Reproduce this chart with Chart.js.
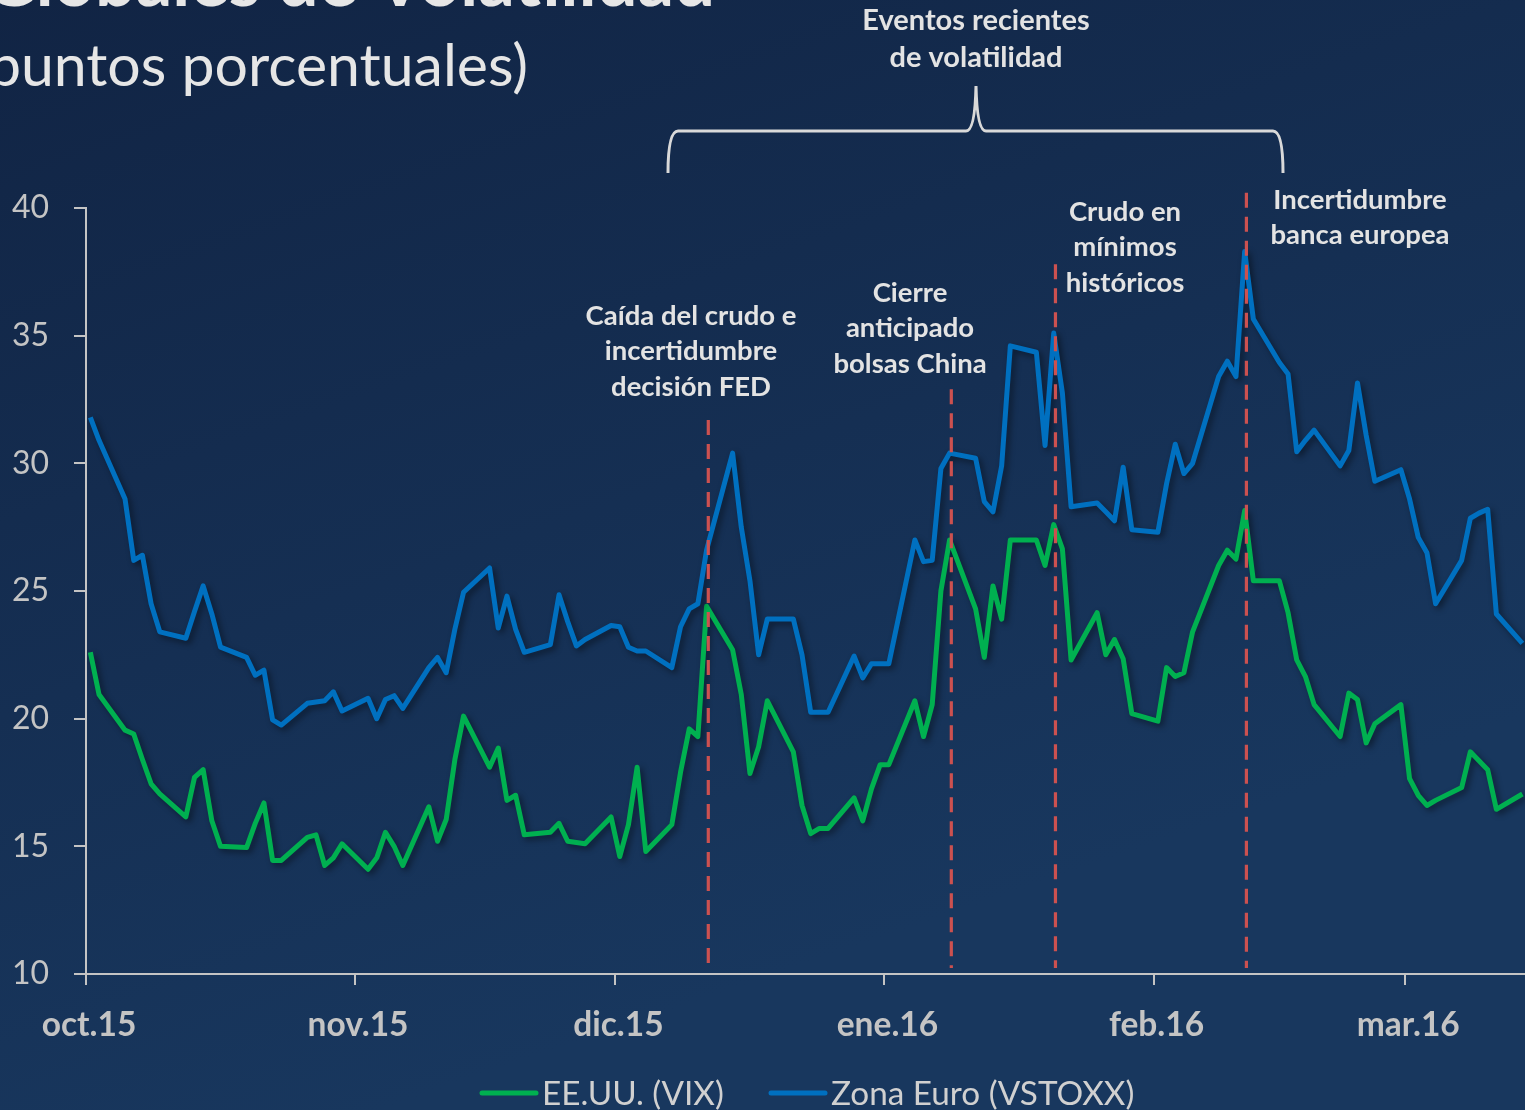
<!DOCTYPE html>
<html>
<head>
<meta charset="utf-8">
<script src="https://cdn.jsdelivr.net/npm/chart.js@4.4.1/dist/chart.umd.min.js"></script>
<style>
  html, body { margin: 0; padding: 0; background: #14294d; }
  #box { position: relative; width: 1525px; height: 1110px; }
</style>
</head>
<body>
<div id="box"><canvas id="chart" width="1525" height="1110"></canvas></div>
<script>
// trading days (oct.15 - mar.16)
const dates = [
  '2015-10-01','2015-10-02','2015-10-05','2015-10-06','2015-10-07','2015-10-08','2015-10-09',
  '2015-10-12','2015-10-13','2015-10-14','2015-10-15','2015-10-16','2015-10-19','2015-10-20',
  '2015-10-21','2015-10-22','2015-10-23','2015-10-26','2015-10-27','2015-10-28','2015-10-29',
  '2015-10-30','2015-11-02','2015-11-03','2015-11-04','2015-11-05','2015-11-06','2015-11-09',
  '2015-11-10','2015-11-11','2015-11-12','2015-11-13','2015-11-16','2015-11-17','2015-11-18',
  '2015-11-19','2015-11-20','2015-11-23','2015-11-24','2015-11-25','2015-11-26','2015-11-27',
  '2015-11-30','2015-12-01','2015-12-02','2015-12-03','2015-12-04','2015-12-07','2015-12-08',
  '2015-12-09','2015-12-10','2015-12-11','2015-12-14','2015-12-15','2015-12-16','2015-12-17',
  '2015-12-18','2015-12-21','2015-12-22','2015-12-23','2015-12-24','2015-12-25','2015-12-28',
  '2015-12-29','2015-12-30','2015-12-31','2016-01-01','2016-01-04','2016-01-05','2016-01-06',
  '2016-01-07','2016-01-08','2016-01-11','2016-01-12','2016-01-13','2016-01-14','2016-01-15',
  '2016-01-18','2016-01-19','2016-01-20','2016-01-21','2016-01-22','2016-01-25','2016-01-26',
  '2016-01-27','2016-01-28','2016-01-29','2016-02-01','2016-02-02','2016-02-03','2016-02-04',
  '2016-02-05','2016-02-08','2016-02-09','2016-02-10','2016-02-11','2016-02-12','2016-02-15',
  '2016-02-16','2016-02-17','2016-02-18','2016-02-19','2016-02-22','2016-02-23','2016-02-24',
  '2016-02-25','2016-02-26','2016-02-29','2016-03-01','2016-03-02','2016-03-03','2016-03-04',
  '2016-03-07','2016-03-08','2016-03-09','2016-03-10','2016-03-11','2016-03-14'
];

const vix = [
  22.6, 20.95, 19.55, 19.4, 18.4, 17.45, 17.05,
  16.15, 17.7, 18.0, 16.0, 15.0, 14.95, 15.9,
  16.7, 14.45, 14.45, 15.35, 15.45, 14.25, 14.55,
  15.1, 14.1, 14.55, 15.55, 15.0, 14.25, 16.55,
  15.2, 16.05, 18.4, 20.1, 18.1, 18.85, 16.8,
  17.0, 15.45, 15.55, 15.9, 15.2, 15.15, 15.1,
  16.15, 14.6, 15.85, 18.1, 14.8, 15.85, 17.9,
  19.6, 19.3, 24.4, 22.7, 20.95, 17.85, 18.9,
  20.7, 18.7, 16.6, 15.5, 15.7, 15.7, 16.9,
  16.0, 17.25, 18.2, 18.2, 20.7, 19.3, 20.55,
  25.0, 27.0, 24.3, 22.4, 25.2, 23.9, 27.0,
  27.0, 26.0, 27.6, 26.65, 22.3, 24.15, 22.5,
  23.1, 22.35, 20.2, 19.9, 22.0, 21.65, 21.8,
  23.4, 26.0, 26.6, 26.25, 28.15, 25.4, 25.4,
  24.15, 22.3, 21.65, 20.55, 19.3, 21.0, 20.75,
  19.05, 19.8, 20.55, 17.65, 17.0, 16.6, 16.8,
  17.3, 18.7, 18.35, 18.0, 16.45, 17.05
];

const vstoxx = [
  31.8, 30.9, 28.6, 26.2, 26.4, 24.5, 23.4,
  23.15, 24.2, 25.2, 24.1, 22.8, 22.4, 21.7,
  21.9, 19.95, 19.75, 20.6, 20.65, 20.7, 21.05,
  20.3, 20.8, 20.0, 20.75, 20.9, 20.4, 22.0,
  22.4, 21.8, 23.5, 24.95, 25.9, 23.55, 24.8,
  23.5, 22.6, 22.9, 24.85, 23.8, 22.85, 23.1,
  23.65, 23.6, 22.8, 22.65, 22.65, 22.0, 23.6,
  24.3, 24.5, 26.6, 30.4, 27.5, 25.4, 22.5,
  23.9, 23.9, 22.5, 20.25, 20.25, 20.25, 22.45,
  21.6, 22.15, 22.15, 22.15, 27.0, 26.15, 26.2,
  29.8, 30.4, 30.2, 28.5, 28.1, 29.9, 34.6,
  34.35, 30.7, 35.1, 32.75, 28.3, 28.45, 28.1,
  27.75, 29.85, 27.4, 27.3, 29.2, 30.75, 29.6,
  30.0, 33.4, 34.0, 33.4, 38.3, 35.65, 33.95,
  33.5, 30.45, 30.9, 31.3, 29.9, 30.5, 33.15,
  31.1, 29.3, 29.75, 28.6, 27.1, 26.5, 24.5,
  26.2, 27.85, 28.05, 28.2, 24.1, 22.95
];

const monthTicks = ['2015-10-01','2015-11-01','2015-12-01','2016-01-01','2016-02-01','2016-03-01'];
const monthLabels = ['oct.15','nov.15','dic.15','ene.16','feb.16','mar.16'];

const eventDates = ['2015-12-11','2016-01-08','2016-01-20','2016-02-11'];
const eventTop = [31.7, 32.9, 37.8, 40.6];
const eventLabels = [
  ['Caída del crudo e', 'incertidumbre', 'decisión FED'],
  ['Cierre', 'anticipado', 'bolsas China'],
  ['Crudo en', 'mínimos', 'históricos'],
  ['Incertidumbre', 'banca europea']
];

const seriesNames = ['EE.UU. (VIX)', 'Zona Euro (VSTOXX)'];

const FONT = "Lato, 'Open Sans', sans-serif";
const GREEN = '#00b050';
const BLUE = '#0070c0';
const AXIS = '#c4c4c4';

const origin = Date.UTC(2015, 9, 1);
function dayOf(s) {
  const p = s.split('-').map(Number);
  return (Date.UTC(p[0], p[1] - 1, p[2]) - origin) / 864e5;
}

// label boxes (pixel layout), one per event
const labelPos = [
  {x: 691, y: 316}, {x: 910, y: 293}, {x: 1125, y: 212}, {x: 1360, y: 200}
];

const decor = {
  id: 'decor',
  beforeDraw(chart) {
    const {ctx, width, height} = chart;
    const g = ctx.createLinearGradient(0, 0, width * 0.25, height);
    g.addColorStop(0, '#112444');
    g.addColorStop(1, '#18375e');
    ctx.save();
    ctx.fillStyle = g;
    ctx.fillRect(0, 0, width, height);
    ctx.restore();
  },
  beforeDatasetDraw(chart) {
    const ctx = chart.ctx;
    ctx.save();
    ctx.shadowColor = 'rgba(0,0,0,0.45)';
    ctx.shadowBlur = 6;
    ctx.shadowOffsetX = 3;
    ctx.shadowOffsetY = 3;
  },
  afterDatasetDraw(chart) {
    chart.ctx.restore();
  },
  afterDatasetsDraw(chart) {
    const {ctx, scales: {x, y}, chartArea} = chart;
    ctx.save();
    ctx.strokeStyle = '#cc5150';
    ctx.lineWidth = 3.2;
    ctx.setLineDash([15, 9]);
    eventDates.forEach((d, i) => {
      const px = x.getPixelForValue(dayOf(d) + 0.2);
      ctx.beginPath();
      ctx.moveTo(px, y.getPixelForValue(eventTop[i]));
      ctx.lineTo(px, chartArea.bottom - 6);
      ctx.stroke();
    });
    ctx.restore();
  },
  afterDraw(chart) {
    const ctx = chart.ctx;
    ctx.save();

    // title (cut at top) and subtitle
    ctx.fillStyle = '#e6e6e6';
    ctx.textAlign = 'right';
    ctx.textBaseline = 'alphabetic';
    ctx.font = 'bold 72px ' + FONT;
    ctx.fillText('Índices Globales de Volatilidad', 715, 6);
    ctx.font = '59px ' + FONT;
    ctx.fillText('(puntos porcentuales)', 528, 86);

    // brace
    ctx.strokeStyle = '#d9d9d9';
    ctx.lineWidth = 3;
    ctx.beginPath();
    ctx.moveTo(668, 173);
    ctx.quadraticCurveTo(668, 131, 678, 131);
    ctx.lineTo(966, 131);
    ctx.quadraticCurveTo(975, 131, 976, 86);
    ctx.quadraticCurveTo(977, 131, 986, 131);
    ctx.lineTo(1273, 131);
    ctx.quadraticCurveTo(1283, 131, 1283, 173);
    ctx.stroke();

    // event labels
    ctx.fillStyle = '#e3e3e3';
    ctx.textAlign = 'center';
    ctx.textBaseline = 'middle';
    ctx.font = 'bold 29px ' + FONT;
    ctx.fillText('Eventos recientes', 976, 21);
    ctx.fillText('de volatilidad', 976, 58);
    ctx.font = 'bold 27.5px ' + FONT;
    eventLabels.forEach((lines, i) => {
      lines.forEach((t, j) => ctx.fillText(t, labelPos[i].x, labelPos[i].y + j * 35.5));
    });

    // legend
    const cols = [GREEN, BLUE];
    const lx = [482, 771];
    ctx.font = '33.3px ' + FONT;
    ctx.textAlign = 'left';
    ctx.fillStyle = '#d0d0d0';
    ctx.lineWidth = 5;
    ctx.lineCap = 'round';
    seriesNames.forEach((n, i) => {
      ctx.strokeStyle = cols[i];
      ctx.beginPath();
      ctx.moveTo(lx[i], 1093);
      ctx.lineTo(lx[i] + 54, 1093);
      ctx.stroke();
      ctx.fillText(n, lx[i] + 60, 1094);
    });
    ctx.restore();
  }
};

new Chart(document.getElementById('chart'), {
  type: 'line',
  data: {
    datasets: [
      {
        label: seriesNames[1],
        data: dates.map((d, i) => ({x: dayOf(d), y: vstoxx[i]})),
        borderColor: BLUE,
        borderWidth: 5,
        pointRadius: 0,
        tension: 0,
        borderJoinStyle: 'round'
      },
      {
        label: seriesNames[0],
        data: dates.map((d, i) => ({x: dayOf(d), y: vix[i]})),
        borderColor: GREEN,
        borderWidth: 5,
        pointRadius: 0,
        tension: 0,
        borderJoinStyle: 'round'
      }
    ]
  },
  options: {
    responsive: false,
    animation: false,
    events: [],
    layout: {padding: {top: 208, left: 0, right: 0, bottom: 0}},
    plugins: {legend: {display: false}, tooltip: {enabled: false}},
    scales: {
      x: {
        type: 'linear',
        min: -0.5,
        max: 165.3,
        afterBuildTicks: (s) => { s.ticks = monthTicks.map(t => ({value: dayOf(t) - 0.5})); },
        afterFit: (s) => { s.height = 136; },
        border: {color: AXIS, width: 2},
        grid: {drawOnChartArea: false, color: AXIS, lineWidth: 2, tickLength: 11},
        ticks: {
          autoSkip: false,
          maxRotation: 0,
          padding: 20,
          labelOffset: 3,
          color: AXIS,
          font: {family: FONT, size: 33.5, weight: 'bold'},
          callback: (v, i) => monthLabels[i]
        }
      },
      y: {
        min: 10,
        max: 40,
        afterFit: (s) => { s.width = 86; },
        border: {color: AXIS, width: 2},
        grid: {drawOnChartArea: false, color: AXIS, lineWidth: 2, tickLength: 12},
        ticks: {
          stepSize: 5,
          padding: 25,
          color: AXIS,
          font: {family: FONT, size: 32}
        }
      }
    }
  },
  plugins: [decor]
});
</script>
</body>
</html>
